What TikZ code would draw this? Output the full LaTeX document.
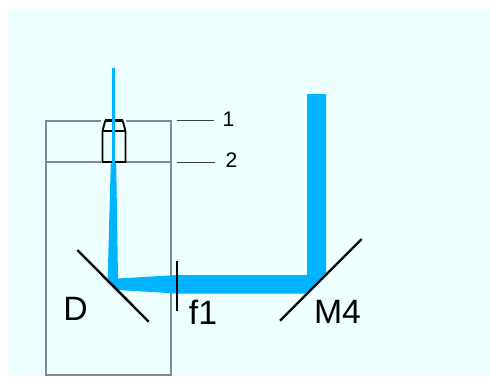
\documentclass[tikz,border=0pt]{standalone}
\usepackage{fontspec}
\setmainfont{Liberation Sans}
\usepackage{tikz}
\usetikzlibrary{calc,positioning}
\definecolor{bgcyan}{HTML}{EDFFFF}
\definecolor{beamblue}{HTML}{00B4FF}
\definecolor{framegray}{HTML}{7F8A99}
\tikzset{
	framing/.style={draw=framegray, line width=1.4pt},
	mirror/.style={draw=black, line width=1.7pt},
	objective/.style={draw=black, line width=1.3pt},
	leader/.style={draw=black!75, line width=0.6pt},
	thinbeam/.style={draw=beamblue, line width=1.6pt},
	biglabel/.style={font=\fontsize{24}{24}\selectfont, inner sep=0pt},
	smalllabel/.style={font=\fontsize{15}{15}\selectfont, inner sep=0pt},
}

\begin{document}
\begin{tikzpicture}[x=0.025cm, y=-0.025cm]
\useasboundingbox (0,0) rectangle (490,376);
\fill[white] (0,0) rectangle (490,376);
\fill[bgcyan] (8,9) rectangle (490,376);

% frame
\coordinate (tl) at (46,121);
\coordinate (tr) at (171,121);
\coordinate (ml) at (46,162);
\coordinate (mr) at (171,162);
\coordinate (bl) at (46,375);
\coordinate (br) at (171,375);
\draw[framing] (101,121) -- (tl) -- (bl) -- (br) -- (tr) -- (126,121);
\draw[framing] (ml) -- (101,162);
\draw[framing] (126,162) -- (mr);

% beam
\fill[beamblue] (110.8,162.5) -- (116.2,162.5) -- (118,278.5) -- (177,275) -- (307,275) -- (307,94) -- (326,94) -- (326,273) -- (306,293.5) -- (177,293.5) -- (117.5,290) -- (107.7,278) -- cycle;

% objective
\draw[objective] (105.3,120.5) -- (102.5,131) -- (102.5,162) -- (125.5,162) -- (125.5,131) -- (122.7,120.5);
\draw[objective, line width=2pt] (105.3,120.5) -- (122.7,120.5);
\draw[objective] (102.5,131) -- (125.5,131);
\draw[thinbeam] (113.6,68) -- (113.6,163);

% mirrors
\coordinate (d1) at (77.3,250);
\coordinate (d2) at (148.7,321.7);
\coordinate (m1) at (280,320.7);
\coordinate (m2) at (361.7,239);
\coordinate (f1a) at (177,260.7);
\coordinate (f1b) at (177,310.7);
\draw[mirror] (d1) -- (d2);
\draw[mirror] (m1) -- (m2);
\draw[mirror] (f1a) -- (f1b);

% leaders
\node[smalllabel] (lab1) at (228.5,119.5) {1};
\node[smalllabel] (lab2) at (231.5,160.5) {2};
\coordinate (l1) at (176.7,120.5);
\coordinate (l2) at (176.7,162);
\draw[leader] (l1) -- (214,120.5);
\draw[leader] (l2) -- (215,162);

\node[biglabel] (labD) at (75.5,308.5) {D};
\node[biglabel] (labf) at (203,312) {f1};
\node[biglabel] (labM) at (337.5,312) {M4};
\end{tikzpicture}
\end{document}
